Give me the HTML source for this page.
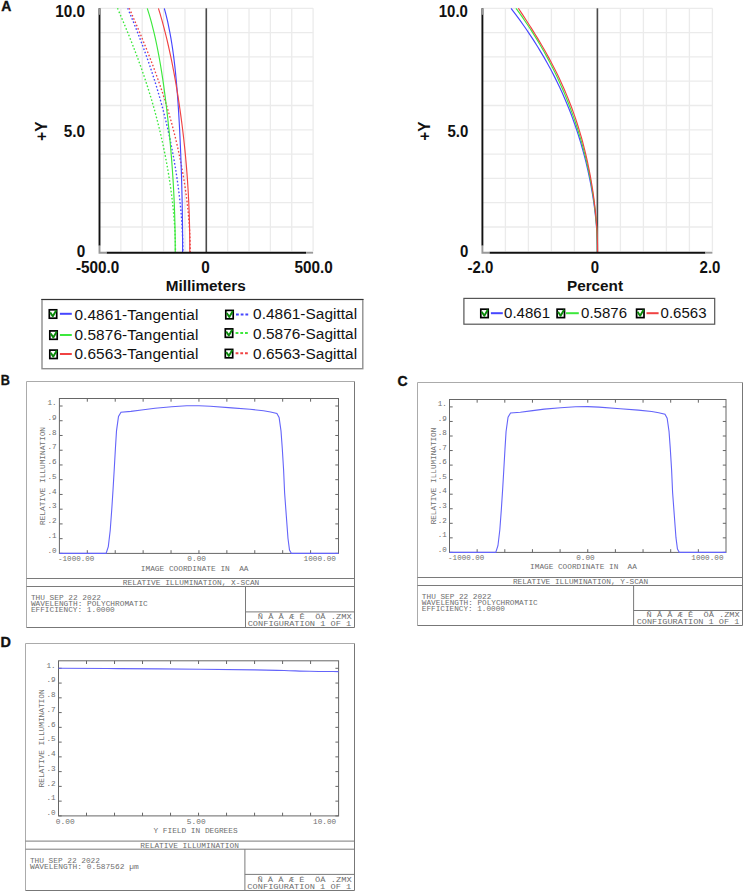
<!DOCTYPE html>
<html><head><meta charset="utf-8"><style>
html,body{margin:0;padding:0;background:#fff;}
svg{display:block;}
</style></head><body>
<svg width="744" height="892" viewBox="0 0 744 892">
<rect width="744" height="892" fill="#fff"/>
<g stroke="#ebebeb" stroke-width="1.3"><line x1="120.86" y1="8.3" x2="120.86" y2="251.3"/><line x1="142.22" y1="8.3" x2="142.22" y2="251.3"/><line x1="163.58" y1="8.3" x2="163.58" y2="251.3"/><line x1="184.94" y1="8.3" x2="184.94" y2="251.3"/><line x1="206.30" y1="8.3" x2="206.30" y2="251.3"/><line x1="227.66" y1="8.3" x2="227.66" y2="251.3"/><line x1="249.02" y1="8.3" x2="249.02" y2="251.3"/><line x1="270.38" y1="8.3" x2="270.38" y2="251.3"/><line x1="291.74" y1="8.3" x2="291.74" y2="251.3"/><line x1="313.10" y1="8.3" x2="313.10" y2="251.3"/><line x1="99.5" y1="8.30" x2="313.1" y2="8.30"/><line x1="99.5" y1="32.60" x2="313.1" y2="32.60"/><line x1="99.5" y1="56.90" x2="313.1" y2="56.90"/><line x1="99.5" y1="81.20" x2="313.1" y2="81.20"/><line x1="99.5" y1="105.50" x2="313.1" y2="105.50"/><line x1="99.5" y1="129.80" x2="313.1" y2="129.80"/><line x1="99.5" y1="154.10" x2="313.1" y2="154.10"/><line x1="99.5" y1="178.40" x2="313.1" y2="178.40"/><line x1="99.5" y1="202.70" x2="313.1" y2="202.70"/><line x1="99.5" y1="227.00" x2="313.1" y2="227.00"/></g>
<g stroke="#ebebeb" stroke-width="1.3"><line x1="505.40" y1="8.3" x2="505.40" y2="251.3"/><line x1="528.40" y1="8.3" x2="528.40" y2="251.3"/><line x1="551.40" y1="8.3" x2="551.40" y2="251.3"/><line x1="574.40" y1="8.3" x2="574.40" y2="251.3"/><line x1="597.40" y1="8.3" x2="597.40" y2="251.3"/><line x1="620.40" y1="8.3" x2="620.40" y2="251.3"/><line x1="643.40" y1="8.3" x2="643.40" y2="251.3"/><line x1="666.40" y1="8.3" x2="666.40" y2="251.3"/><line x1="689.40" y1="8.3" x2="689.40" y2="251.3"/><line x1="712.40" y1="8.3" x2="712.40" y2="251.3"/><line x1="482.4" y1="8.30" x2="712.4" y2="8.30"/><line x1="482.4" y1="32.60" x2="712.4" y2="32.60"/><line x1="482.4" y1="56.90" x2="712.4" y2="56.90"/><line x1="482.4" y1="81.20" x2="712.4" y2="81.20"/><line x1="482.4" y1="105.50" x2="712.4" y2="105.50"/><line x1="482.4" y1="129.80" x2="712.4" y2="129.80"/><line x1="482.4" y1="154.10" x2="712.4" y2="154.10"/><line x1="482.4" y1="178.40" x2="712.4" y2="178.40"/><line x1="482.4" y1="202.70" x2="712.4" y2="202.70"/><line x1="482.4" y1="227.00" x2="712.4" y2="227.00"/></g>
<line x1="206.3" y1="8.3" x2="206.3" y2="252.7" stroke="#4a4a4a" stroke-width="1.6"/>
<line x1="597.4" y1="8.3" x2="597.4" y2="252.7" stroke="#4a4a4a" stroke-width="1.6"/>
<path d="M117.51,8.30 C117.95,9.31 119.26,12.35 120.12,14.38 C120.98,16.40 121.84,18.43 122.70,20.45 C123.55,22.48 124.40,24.50 125.24,26.53 C126.08,28.55 126.91,30.58 127.74,32.60 C128.56,34.62 129.38,36.65 130.19,38.67 C131.00,40.70 131.80,42.73 132.59,44.75 C133.38,46.77 134.16,48.80 134.94,50.83 C135.71,52.85 136.47,54.88 137.22,56.90 C137.98,58.93 138.72,60.95 139.45,62.98 C140.18,65.00 140.90,67.03 141.62,69.05 C142.33,71.07 143.03,73.10 143.72,75.12 C144.40,77.15 145.08,79.17 145.75,81.20 C146.42,83.23 147.07,85.25 147.72,87.28 C148.36,89.30 148.99,91.32 149.62,93.35 C150.24,95.38 150.85,97.40 151.45,99.42 C152.05,101.45 152.64,103.47 153.21,105.50 C153.79,107.53 154.36,109.55 154.91,111.58 C155.47,113.60 156.01,115.62 156.54,117.65 C157.07,119.68 157.59,121.70 158.10,123.72 C158.61,125.75 159.11,127.78 159.60,129.80 C160.09,131.83 160.57,133.85 161.03,135.88 C161.50,137.90 161.95,139.93 162.40,141.95 C162.84,143.98 163.28,146.00 163.70,148.03 C164.12,150.05 164.54,152.08 164.94,154.10 C165.34,156.13 165.73,158.15 166.11,160.18 C166.49,162.20 166.86,164.23 167.22,166.25 C167.58,168.28 167.93,170.30 168.27,172.33 C168.61,174.35 168.93,176.38 169.25,178.40 C169.57,180.43 169.87,182.45 170.17,184.48 C170.46,186.50 170.75,188.53 171.02,190.55 C171.30,192.58 171.56,194.60 171.81,196.63 C172.06,198.65 172.30,200.68 172.53,202.70 C172.76,204.73 172.97,206.75 173.18,208.78 C173.38,210.80 173.57,212.83 173.75,214.85 C173.93,216.88 174.10,218.90 174.25,220.93 C174.41,222.95 174.55,224.98 174.67,227.00 C174.80,229.03 174.91,231.05 175.01,233.08 C175.11,235.10 175.19,237.12 175.26,239.15 C175.32,241.18 175.38,243.20 175.41,245.23 C175.45,247.25 175.46,250.15 175.46,251.30 C175.47,252.45 175.46,251.97 175.46,252.10" fill="none" stroke="#3ce83c" stroke-width="1.35" stroke-dasharray="1.6 2.0"/>
<path d="M127.75,8.30 C128.17,9.31 129.44,12.35 130.28,14.38 C131.11,16.40 131.94,18.43 132.77,20.45 C133.59,22.48 134.41,24.50 135.22,26.53 C136.03,28.55 136.83,30.58 137.62,32.60 C138.42,34.62 139.20,36.65 139.98,38.67 C140.75,40.70 141.52,42.73 142.28,44.75 C143.04,46.77 143.79,48.80 144.52,50.83 C145.26,52.85 145.99,54.88 146.71,56.90 C147.43,58.93 148.14,60.95 148.84,62.98 C149.53,65.00 150.22,67.03 150.90,69.05 C151.57,71.07 152.24,73.10 152.90,75.12 C153.55,77.15 154.20,79.17 154.83,81.20 C155.46,83.23 156.09,85.25 156.70,87.28 C157.31,89.30 157.91,91.32 158.50,93.35 C159.09,95.38 159.67,97.40 160.23,99.42 C160.80,101.45 161.36,103.47 161.90,105.50 C162.45,107.53 162.98,109.55 163.51,111.58 C164.03,113.60 164.55,115.62 165.05,117.65 C165.55,119.68 166.04,121.70 166.52,123.72 C167.01,125.75 167.48,127.78 167.94,129.80 C168.40,131.83 168.85,133.85 169.29,135.88 C169.73,137.90 170.15,139.93 170.57,141.95 C170.99,143.98 171.40,146.00 171.80,148.03 C172.20,150.05 172.59,152.08 172.96,154.10 C173.34,156.13 173.71,158.15 174.07,160.18 C174.43,162.20 174.77,164.23 175.11,166.25 C175.45,168.28 175.78,170.30 176.10,172.33 C176.42,174.35 176.72,176.38 177.02,178.40 C177.32,180.43 177.61,182.45 177.88,184.48 C178.16,186.50 178.43,188.53 178.69,190.55 C178.94,192.58 179.19,194.60 179.42,196.63 C179.66,198.65 179.89,200.68 180.10,202.70 C180.31,204.73 180.52,206.75 180.71,208.78 C180.90,210.80 181.08,212.83 181.25,214.85 C181.42,216.88 181.58,218.90 181.72,220.93 C181.86,222.95 182.00,224.98 182.11,227.00 C182.23,229.03 182.34,231.05 182.43,233.08 C182.52,235.10 182.60,237.12 182.66,239.15 C182.73,241.18 182.77,243.20 182.81,245.23 C182.84,247.25 182.85,250.15 182.86,251.30 C182.86,252.45 182.86,251.97 182.86,252.10" fill="none" stroke="#4646ff" stroke-width="1.35" stroke-dasharray="1.6 2.0"/>
<path d="M129.28,8.30 C129.72,9.31 131.04,12.35 131.92,14.38 C132.79,16.40 133.67,18.43 134.54,20.45 C135.41,22.48 136.28,24.50 137.14,26.53 C138.00,28.55 138.86,30.58 139.71,32.60 C140.56,34.62 141.41,36.65 142.25,38.67 C143.09,40.70 143.92,42.73 144.74,44.75 C145.56,46.77 146.38,48.80 147.19,50.83 C147.99,52.85 148.79,54.88 149.58,56.90 C150.37,58.93 151.15,60.95 151.92,62.98 C152.69,65.00 153.46,67.03 154.21,69.05 C154.96,71.07 155.70,73.10 156.43,75.12 C157.16,77.15 157.88,79.17 158.58,81.20 C159.29,83.23 159.99,85.25 160.68,87.28 C161.36,89.30 162.04,91.32 162.70,93.35 C163.36,95.38 164.02,97.40 164.66,99.42 C165.30,101.45 165.93,103.47 166.54,105.50 C167.16,107.53 167.77,109.55 168.36,111.58 C168.96,113.60 169.54,115.62 170.11,117.65 C170.68,119.68 171.24,121.70 171.79,123.72 C172.33,125.75 172.87,127.78 173.39,129.80 C173.92,131.83 174.43,133.85 174.93,135.88 C175.43,137.90 175.92,139.93 176.39,141.95 C176.87,143.98 177.33,146.00 177.79,148.03 C178.24,150.05 178.68,152.08 179.11,154.10 C179.54,156.13 179.96,158.15 180.36,160.18 C180.77,162.20 181.17,164.23 181.55,166.25 C181.93,168.28 182.30,170.30 182.66,172.33 C183.02,174.35 183.37,176.38 183.70,178.40 C184.04,180.43 184.36,182.45 184.68,184.48 C184.99,186.50 185.29,188.53 185.58,190.55 C185.86,192.58 186.14,194.60 186.40,196.63 C186.67,198.65 186.92,200.68 187.15,202.70 C187.39,204.73 187.62,206.75 187.83,208.78 C188.04,210.80 188.24,212.83 188.43,214.85 C188.61,216.88 188.79,218.90 188.94,220.93 C189.10,222.95 189.25,224.98 189.38,227.00 C189.51,229.03 189.62,231.05 189.72,233.08 C189.82,235.10 189.90,237.12 189.97,239.15 C190.04,241.18 190.09,243.20 190.13,245.23 C190.16,247.25 190.17,250.15 190.18,251.30 C190.19,252.45 190.18,251.97 190.18,252.10" fill="none" stroke="#f04242" stroke-width="1.35" stroke-dasharray="1.6 2.0"/>
<path d="M147.27,8.30 C147.59,9.31 148.55,12.35 149.15,14.38 C149.76,16.40 150.33,18.43 150.89,20.45 C151.45,22.48 151.99,24.50 152.51,26.53 C153.03,28.55 153.52,30.58 154.01,32.60 C154.49,34.62 154.95,36.65 155.40,38.67 C155.85,40.70 156.29,42.73 156.71,44.75 C157.13,46.77 157.53,48.80 157.93,50.83 C158.32,52.85 158.70,54.88 159.07,56.90 C159.44,58.93 159.80,60.95 160.15,62.98 C160.50,65.00 160.84,67.03 161.17,69.05 C161.50,71.07 161.82,73.10 162.13,75.12 C162.44,77.15 162.74,79.17 163.04,81.20 C163.34,83.23 163.62,85.25 163.91,87.28 C164.19,89.30 164.46,91.32 164.73,93.35 C165.00,95.38 165.26,97.40 165.51,99.42 C165.77,101.45 166.02,103.47 166.27,105.50 C166.51,107.53 166.75,109.55 166.98,111.58 C167.22,113.60 167.44,115.62 167.67,117.65 C167.89,119.68 168.11,121.70 168.32,123.72 C168.54,125.75 168.75,127.78 168.95,129.80 C169.16,131.83 169.36,133.85 169.55,135.88 C169.75,137.90 169.94,139.93 170.12,141.95 C170.31,143.98 170.49,146.00 170.66,148.03 C170.84,150.05 171.01,152.08 171.18,154.10 C171.35,156.13 171.51,158.15 171.67,160.18 C171.82,162.20 171.98,164.23 172.12,166.25 C172.27,168.28 172.41,170.30 172.55,172.33 C172.69,174.35 172.82,176.38 172.95,178.40 C173.08,180.43 173.20,182.45 173.32,184.48 C173.44,186.50 173.55,188.53 173.65,190.55 C173.76,192.58 173.86,194.60 173.96,196.63 C174.05,198.65 174.14,200.68 174.23,202.70 C174.31,204.73 174.39,206.75 174.47,208.78 C174.54,210.80 174.61,212.83 174.67,214.85 C174.73,216.88 174.79,218.90 174.84,220.93 C174.89,222.95 174.94,224.98 174.98,227.00 C175.02,229.03 175.06,231.05 175.09,233.08 C175.12,235.10 175.14,237.12 175.16,239.15 C175.18,241.18 175.19,243.20 175.20,245.23 C175.21,247.25 175.21,250.15 175.22,251.30 C175.22,252.45 175.22,251.97 175.22,252.10" fill="none" stroke="#3ce83c" stroke-width="1.15"/>
<path d="M164.30,8.30 C164.56,9.31 165.39,12.35 165.91,14.38 C166.42,16.40 166.90,18.43 167.37,20.45 C167.83,22.48 168.27,24.50 168.69,26.53 C169.11,28.55 169.51,30.58 169.89,32.60 C170.28,34.62 170.64,36.65 170.99,38.67 C171.33,40.70 171.66,42.73 171.98,44.75 C172.29,46.77 172.59,48.80 172.88,50.83 C173.16,52.85 173.44,54.88 173.70,56.90 C173.96,58.93 174.21,60.95 174.44,62.98 C174.68,65.00 174.91,67.03 175.13,69.05 C175.35,71.07 175.55,73.10 175.75,75.12 C175.95,77.15 176.14,79.17 176.33,81.20 C176.51,83.23 176.68,85.25 176.85,87.28 C177.02,89.30 177.18,91.32 177.34,93.35 C177.50,95.38 177.65,97.40 177.79,99.42 C177.94,101.45 178.08,103.47 178.21,105.50 C178.35,107.53 178.47,109.55 178.60,111.58 C178.73,113.60 178.85,115.62 178.96,117.65 C179.08,119.68 179.20,121.70 179.31,123.72 C179.42,125.75 179.52,127.78 179.63,129.80 C179.73,131.83 179.83,133.85 179.93,135.88 C180.02,137.90 180.12,139.93 180.21,141.95 C180.30,143.98 180.39,146.00 180.47,148.03 C180.56,150.05 180.64,152.08 180.72,154.10 C180.80,156.13 180.88,158.15 180.95,160.18 C181.03,162.20 181.10,164.23 181.17,166.25 C181.24,168.28 181.31,170.30 181.37,172.33 C181.44,174.35 181.50,176.38 181.56,178.40 C181.62,180.43 181.68,182.45 181.73,184.48 C181.79,186.50 181.84,188.53 181.89,190.55 C181.94,192.58 181.99,194.60 182.03,196.63 C182.08,198.65 182.12,200.68 182.16,202.70 C182.20,204.73 182.24,206.75 182.27,208.78 C182.30,210.80 182.34,212.83 182.36,214.85 C182.39,216.88 182.42,218.90 182.44,220.93 C182.47,222.95 182.49,224.98 182.51,227.00 C182.53,229.03 182.54,231.05 182.55,233.08 C182.57,235.10 182.58,237.12 182.59,239.15 C182.60,241.18 182.60,243.20 182.61,245.23 C182.61,247.25 182.61,250.15 182.61,251.30 C182.61,252.45 182.61,251.97 182.61,252.10" fill="none" stroke="#4646ff" stroke-width="1.15"/>
<path d="M158.42,8.30 C158.73,9.31 159.66,12.35 160.26,14.38 C160.85,16.40 161.43,18.43 162.00,20.45 C162.56,22.48 163.11,24.50 163.65,26.53 C164.19,28.55 164.71,30.58 165.22,32.60 C165.74,34.62 166.24,36.65 166.72,38.67 C167.21,40.70 167.69,42.73 168.15,44.75 C168.62,46.77 169.07,48.80 169.51,50.83 C169.96,52.85 170.39,54.88 170.81,56.90 C171.24,58.93 171.65,60.95 172.06,62.98 C172.46,65.00 172.86,67.03 173.25,69.05 C173.64,71.07 174.02,73.10 174.39,75.12 C174.76,77.15 175.12,79.17 175.48,81.20 C175.83,83.23 176.18,85.25 176.52,87.28 C176.86,89.30 177.19,91.32 177.52,93.35 C177.85,95.38 178.17,97.40 178.48,99.42 C178.79,101.45 179.09,103.47 179.39,105.50 C179.69,107.53 179.98,109.55 180.27,111.58 C180.55,113.60 180.83,115.62 181.10,117.65 C181.37,119.68 181.64,121.70 181.90,123.72 C182.16,125.75 182.41,127.78 182.66,129.80 C182.90,131.83 183.14,133.85 183.38,135.88 C183.61,137.90 183.84,139.93 184.06,141.95 C184.28,143.98 184.49,146.00 184.70,148.03 C184.91,150.05 185.11,152.08 185.31,154.10 C185.50,156.13 185.69,158.15 185.87,160.18 C186.05,162.20 186.23,164.23 186.40,166.25 C186.57,168.28 186.73,170.30 186.89,172.33 C187.05,174.35 187.20,176.38 187.34,178.40 C187.48,180.43 187.62,182.45 187.75,184.48 C187.88,186.50 188.01,188.53 188.13,190.55 C188.24,192.58 188.36,194.60 188.46,196.63 C188.57,198.65 188.66,200.68 188.76,202.70 C188.85,204.73 188.93,206.75 189.01,208.78 C189.09,210.80 189.17,212.83 189.23,214.85 C189.30,216.88 189.36,218.90 189.42,220.93 C189.47,222.95 189.52,224.98 189.56,227.00 C189.60,229.03 189.64,231.05 189.67,233.08 C189.70,235.10 189.73,237.12 189.75,239.15 C189.77,241.18 189.78,243.20 189.79,245.23 C189.80,247.25 189.81,250.15 189.81,251.30 C189.81,252.45 189.81,251.97 189.81,252.10" fill="none" stroke="#f04242" stroke-width="1.15"/>
<path d="M511.04,8.30 C511.81,9.31 514.12,12.35 515.62,14.38 C517.13,16.40 518.61,18.43 520.06,20.45 C521.52,22.48 522.95,24.50 524.37,26.53 C525.78,28.55 527.16,30.58 528.52,32.60 C529.89,34.62 531.23,36.65 532.54,38.67 C533.86,40.70 535.15,42.73 536.42,44.75 C537.69,46.77 538.93,48.80 540.15,50.83 C541.37,52.85 542.57,54.88 543.75,56.90 C544.92,58.93 546.07,60.95 547.20,62.98 C548.33,65.00 549.44,67.03 550.52,69.05 C551.60,71.07 552.66,73.10 553.70,75.12 C554.74,77.15 555.75,79.17 556.75,81.20 C557.74,83.23 558.71,85.25 559.66,87.28 C560.61,89.30 561.54,91.32 562.45,93.35 C563.36,95.38 564.24,97.40 565.11,99.42 C565.98,101.45 566.82,103.47 567.65,105.50 C568.48,107.53 569.28,109.55 570.07,111.58 C570.86,113.60 571.62,115.62 572.37,117.65 C573.12,119.68 573.85,121.70 574.56,123.72 C575.27,125.75 575.96,127.78 576.64,129.80 C577.31,131.83 577.97,133.85 578.61,135.88 C579.25,137.90 579.87,139.93 580.48,141.95 C581.08,143.98 581.67,146.00 582.24,148.03 C582.81,150.05 583.36,152.08 583.90,154.10 C584.44,156.13 584.96,158.15 585.47,160.18 C585.97,162.20 586.46,164.23 586.94,166.25 C587.41,168.28 587.87,170.30 588.31,172.33 C588.76,174.35 589.18,176.38 589.60,178.40 C590.01,180.43 590.41,182.45 590.79,184.48 C591.17,186.50 591.53,188.53 591.88,190.55 C592.24,192.58 592.57,194.60 592.89,196.63 C593.21,198.65 593.52,200.68 593.80,202.70 C594.09,204.73 594.37,206.75 594.62,208.78 C594.88,210.80 595.12,212.83 595.34,214.85 C595.57,216.88 595.78,218.90 595.97,220.93 C596.16,222.95 596.33,224.98 596.49,227.00 C596.65,229.03 596.78,231.05 596.90,233.08 C597.02,235.10 597.13,237.12 597.21,239.15 C597.29,241.18 597.35,243.20 597.40,245.23 C597.44,247.25 597.45,250.15 597.46,251.30 C597.47,252.45 597.46,251.97 597.46,252.10" fill="none" stroke="#4646ff" stroke-width="1.15"/>
<path d="M516.02,8.30 C516.75,9.31 518.97,12.35 520.41,14.38 C521.84,16.40 523.25,18.43 524.63,20.45 C526.02,22.48 527.37,24.50 528.71,26.53 C530.04,28.55 531.34,30.58 532.63,32.60 C533.91,34.62 535.17,36.65 536.40,38.67 C537.64,40.70 538.85,42.73 540.04,44.75 C541.22,46.77 542.39,48.80 543.53,50.83 C544.67,52.85 545.79,54.88 546.89,56.90 C547.99,58.93 549.06,60.95 550.12,62.98 C551.17,65.00 552.21,67.03 553.22,69.05 C554.23,71.07 555.22,73.10 556.20,75.12 C557.17,77.15 558.12,79.17 559.05,81.20 C559.98,83.23 560.89,85.25 561.79,87.28 C562.68,89.30 563.55,91.32 564.41,93.35 C565.26,95.38 566.10,97.40 566.91,99.42 C567.73,101.45 568.53,103.47 569.31,105.50 C570.09,107.53 570.86,109.55 571.60,111.58 C572.35,113.60 573.07,115.62 573.79,117.65 C574.50,119.68 575.19,121.70 575.87,123.72 C576.54,125.75 577.20,127.78 577.85,129.80 C578.49,131.83 579.12,133.85 579.73,135.88 C580.34,137.90 580.93,139.93 581.51,141.95 C582.09,143.98 582.65,146.00 583.19,148.03 C583.74,150.05 584.27,152.08 584.78,154.10 C585.30,156.13 585.80,158.15 586.28,160.18 C586.76,162.20 587.23,164.23 587.68,166.25 C588.13,168.28 588.57,170.30 588.99,172.33 C589.41,174.35 589.82,176.38 590.21,178.40 C590.60,180.43 590.97,182.45 591.33,184.48 C591.69,186.50 592.04,188.53 592.37,190.55 C592.69,192.58 593.01,194.60 593.30,196.63 C593.60,198.65 593.88,200.68 594.15,202.70 C594.42,204.73 594.67,206.75 594.90,208.78 C595.14,210.80 595.36,212.83 595.56,214.85 C595.76,216.88 595.95,218.90 596.12,220.93 C596.29,222.95 596.45,224.98 596.59,227.00 C596.72,229.03 596.85,231.05 596.95,233.08 C597.06,235.10 597.14,237.12 597.21,239.15 C597.28,241.18 597.34,243.20 597.37,245.23 C597.41,247.25 597.42,250.15 597.43,251.30 C597.44,252.45 597.43,251.97 597.43,252.10" fill="none" stroke="#3ce83c" stroke-width="1.15"/>
<path d="M518.36,8.30 C519.03,9.31 521.07,12.35 522.41,14.38 C523.75,16.40 525.08,18.43 526.39,20.45 C527.71,22.48 529.01,24.50 530.30,26.53 C531.58,28.55 532.85,30.58 534.11,32.60 C535.36,34.62 536.60,36.65 537.82,38.67 C539.04,40.70 540.25,42.73 541.43,44.75 C542.62,46.77 543.78,48.80 544.93,50.83 C546.08,52.85 547.20,54.88 548.31,56.90 C549.42,58.93 550.50,60.95 551.57,62.98 C552.63,65.00 553.68,67.03 554.70,69.05 C555.73,71.07 556.73,73.10 557.71,75.12 C558.69,77.15 559.65,79.17 560.59,81.20 C561.53,83.23 562.45,85.25 563.34,87.28 C564.24,89.30 565.12,91.32 565.97,93.35 C566.83,95.38 567.66,97.40 568.47,99.42 C569.29,101.45 570.08,103.47 570.85,105.50 C571.62,107.53 572.37,109.55 573.10,111.58 C573.84,113.60 574.55,115.62 575.24,117.65 C575.93,119.68 576.60,121.70 577.26,123.72 C577.91,125.75 578.55,127.78 579.16,129.80 C579.78,131.83 580.38,133.85 580.96,135.88 C581.54,137.90 582.10,139.93 582.65,141.95 C583.20,143.98 583.72,146.00 584.24,148.03 C584.75,150.05 585.24,152.08 585.72,154.10 C586.20,156.13 586.67,158.15 587.11,160.18 C587.56,162.20 588.00,164.23 588.41,166.25 C588.83,168.28 589.23,170.30 589.62,172.33 C590.01,174.35 590.38,176.38 590.74,178.40 C591.10,180.43 591.45,182.45 591.78,184.48 C592.11,186.50 592.43,188.53 592.74,190.55 C593.04,192.58 593.33,194.60 593.61,196.63 C593.88,198.65 594.15,200.68 594.40,202.70 C594.65,204.73 594.89,206.75 595.11,208.78 C595.33,210.80 595.54,212.83 595.73,214.85 C595.93,216.88 596.11,218.90 596.28,220.93 C596.44,222.95 596.60,224.98 596.73,227.00 C596.87,229.03 596.99,231.05 597.10,233.08 C597.20,235.10 597.29,237.12 597.36,239.15 C597.44,241.18 597.49,243.20 597.53,245.23 C597.57,247.25 597.58,250.15 597.59,251.30 C597.60,252.45 597.59,251.97 597.59,252.10" fill="none" stroke="#f04242" stroke-width="1.15"/>
<line x1="99.5" y1="8.3" x2="99.5" y2="245.7" stroke="#111" stroke-width="1.9"/>
<line x1="106.5" y1="252.7" x2="306.1" y2="252.7" stroke="#111" stroke-width="1.9"/>
<line x1="99.5" y1="8.3" x2="99.5" y2="14.8" stroke="#999" stroke-width="1.9"/>
<path d="M99.5,245.7V252.7H106.5" fill="none" stroke="#999" stroke-width="1.9"/>
<line x1="306.1" y1="252.7" x2="313.1" y2="252.7" stroke="#999" stroke-width="1.9"/>
<line x1="482.4" y1="8.3" x2="482.4" y2="245.7" stroke="#111" stroke-width="1.9"/>
<line x1="489.4" y1="252.7" x2="705.4" y2="252.7" stroke="#111" stroke-width="1.9"/>
<line x1="482.4" y1="8.3" x2="482.4" y2="14.8" stroke="#999" stroke-width="1.9"/>
<path d="M482.4,245.7V252.7H489.4" fill="none" stroke="#999" stroke-width="1.9"/>
<line x1="705.4" y1="252.7" x2="712.4" y2="252.7" stroke="#999" stroke-width="1.9"/>
<text font-family="Liberation Sans" font-weight="bold" fill="#111" font-size="15.3" transform="translate(84.9,17.3) scale(1,1.05)" text-anchor="end">10.0</text>
<text font-family="Liberation Sans" font-weight="bold" fill="#111" font-size="15.3" transform="translate(84.9,137.2) scale(1,1.05)" text-anchor="end">5.0</text>
<text font-family="Liberation Sans" font-weight="bold" fill="#111" font-size="15.3" transform="translate(85.3,256.5) scale(1,1.05)" text-anchor="end">0</text>
<text font-family="Liberation Sans" font-weight="bold" fill="#111" font-size="15.3" transform="translate(97.6,272.6) scale(1,1.04)" text-anchor="middle">-500.0</text>
<text font-family="Liberation Sans" font-weight="bold" fill="#111" font-size="15.3" transform="translate(205.6,272.6) scale(1,1.04)" text-anchor="middle">0</text>
<text font-family="Liberation Sans" font-weight="bold" fill="#111" font-size="15.3" transform="translate(313.7,272.6) scale(1,1.04)" text-anchor="middle">500.0</text>
<text font-family="Liberation Sans" font-weight="bold" fill="#111" font-size="15.3" transform="translate(205.7,291.0) scale(1,0.99)" text-anchor="middle">Millimeters</text>
<text font-family="Liberation Sans" font-weight="bold" fill="#111" font-size="15.5" transform="translate(47.0,131.2) rotate(-90) scale(1,1.03)" text-anchor="middle">+Y</text>
<text font-family="Liberation Sans" font-weight="bold" fill="#111" font-size="15" transform="translate(467.9,16.7) scale(1,1.06)" text-anchor="end">10.0</text>
<text font-family="Liberation Sans" font-weight="bold" fill="#111" font-size="15" transform="translate(468.3,137.2) scale(1,1.06)" text-anchor="end">5.0</text>
<text font-family="Liberation Sans" font-weight="bold" fill="#111" font-size="15" transform="translate(468.3,256.7) scale(1,1.06)" text-anchor="end">0</text>
<text font-family="Liberation Sans" font-weight="bold" fill="#111" font-size="15" transform="translate(480.3,272.6) scale(1,1.06)" text-anchor="middle">-2.0</text>
<text font-family="Liberation Sans" font-weight="bold" fill="#111" font-size="15" transform="translate(595.0,272.6) scale(1,1.06)" text-anchor="middle">0</text>
<text font-family="Liberation Sans" font-weight="bold" fill="#111" font-size="15" transform="translate(710.0,272.6) scale(1,1.06)" text-anchor="middle">2.0</text>
<text font-family="Liberation Sans" font-weight="bold" fill="#111" font-size="15.3" transform="translate(595.0,291.0) scale(1,1.0)" text-anchor="middle">Percent</text>
<text font-family="Liberation Sans" font-weight="bold" fill="#111" font-size="15.3" transform="translate(430.2,131.2) rotate(-90) scale(1,1.03)" text-anchor="middle">+Y</text>
<text font-family="Liberation Sans" font-weight="bold" fill="#111" font-size="14" stroke="#111" stroke-width="0.35" transform="translate(1.2,10.9) scale(1.0,1)">A</text>
<text font-family="Liberation Sans" font-weight="bold" fill="#111" font-size="14" stroke="#111" stroke-width="0.35" transform="translate(0.7,385.3) scale(0.9,1)">B</text>
<text font-family="Liberation Sans" font-weight="bold" fill="#111" font-size="14" stroke="#111" stroke-width="0.35" transform="translate(397.5,385.9) scale(1.0,1)">C</text>
<text font-family="Liberation Sans" font-weight="bold" fill="#111" font-size="14" stroke="#111" stroke-width="0.35" transform="translate(0.6,646.9) scale(1.03,1)">D</text>
<rect x="42" y="299.5" width="320.8" height="69.2" fill="none" stroke="#8e8e8e" stroke-width="1.4"/>
<line x1="41.3" y1="299.5" x2="363.5" y2="299.5" stroke="#333" stroke-width="1.1"/>
<rect x="463.9" y="298.4" width="250.8" height="25.8" fill="none" stroke="#555" stroke-width="1.2"/>
<rect x="49.3" y="309.8" width="7.4" height="8.4" fill="#fff" stroke="#000" stroke-width="1.7"/><path d="M50.2,312.4 L52.8,316.3 L56.3,310.3" fill="none" stroke="#0a8a0a" stroke-width="1.9" stroke-linejoin="round"/>
<line x1="59.9" y1="313.8" x2="71.8" y2="313.8" stroke="#4646ff" stroke-width="2"/>
<text font-family="Liberation Sans" font-size="15.4" fill="#111" x="74.4" y="319.8" textLength="124" lengthAdjust="spacing">0.4861-Tangential</text>
<rect x="225.8" y="310.40000000000003" width="7.4" height="8.4" fill="#fff" stroke="#000" stroke-width="1.7"/><path d="M226.7,313.0 L229.3,316.90000000000003 L232.8,310.90000000000003" fill="none" stroke="#0a8a0a" stroke-width="1.9" stroke-linejoin="round"/>
<line x1="236.0" y1="314.5" x2="248.6" y2="314.5" stroke="#4646ff" stroke-width="2" stroke-dasharray="2.8 1.9"/>
<text font-family="Liberation Sans" font-size="15.4" fill="#111" x="253.1" y="318.7" textLength="104" lengthAdjust="spacing">0.4861-Sagittal</text>
<rect x="49.8" y="330.90000000000003" width="7.4" height="8.4" fill="#fff" stroke="#000" stroke-width="1.7"/><path d="M50.7,333.5 L53.3,337.40000000000003 L56.8,331.40000000000003" fill="none" stroke="#0a8a0a" stroke-width="1.9" stroke-linejoin="round"/>
<line x1="59.9" y1="335.0" x2="71.8" y2="335.0" stroke="#3ce83c" stroke-width="2"/>
<text font-family="Liberation Sans" font-size="15.4" fill="#111" x="74.4" y="339.9" textLength="124" lengthAdjust="spacing">0.5876-Tangential</text>
<rect x="225.3" y="328.90000000000003" width="7.4" height="8.4" fill="#fff" stroke="#000" stroke-width="1.7"/><path d="M226.2,331.5 L228.8,335.40000000000003 L232.3,329.40000000000003" fill="none" stroke="#0a8a0a" stroke-width="1.9" stroke-linejoin="round"/>
<line x1="235.6" y1="332.9" x2="248.2" y2="332.9" stroke="#3ce83c" stroke-width="2" stroke-dasharray="2.8 1.9"/>
<text font-family="Liberation Sans" font-size="15.4" fill="#111" x="253.1" y="338.5" textLength="104" lengthAdjust="spacing">0.5876-Sagittal</text>
<rect x="49.8" y="350.1" width="7.4" height="8.4" fill="#fff" stroke="#000" stroke-width="1.7"/><path d="M50.7,352.7 L53.3,356.6 L56.8,350.6" fill="none" stroke="#0a8a0a" stroke-width="1.9" stroke-linejoin="round"/>
<line x1="59.9" y1="354.0" x2="71.8" y2="354.0" stroke="#f04242" stroke-width="2"/>
<text font-family="Liberation Sans" font-size="15.4" fill="#111" x="74.4" y="359.3" textLength="124" lengthAdjust="spacing">0.6563-Tangential</text>
<rect x="225.3" y="349.40000000000003" width="7.4" height="8.4" fill="#fff" stroke="#000" stroke-width="1.7"/><path d="M226.2,352.0 L228.8,355.90000000000003 L232.3,349.90000000000003" fill="none" stroke="#0a8a0a" stroke-width="1.9" stroke-linejoin="round"/>
<line x1="235.6" y1="353.3" x2="248.2" y2="353.3" stroke="#f04242" stroke-width="2" stroke-dasharray="2.8 1.9"/>
<text font-family="Liberation Sans" font-size="15.4" fill="#111" x="253.1" y="358.7" textLength="104" lengthAdjust="spacing">0.6563-Sagittal</text>
<rect x="480.8" y="309.2" width="7.4" height="8.4" fill="#fff" stroke="#000" stroke-width="1.7"/><path d="M481.7,311.79999999999995 L484.3,315.7 L487.8,309.7" fill="none" stroke="#0a8a0a" stroke-width="1.9" stroke-linejoin="round"/>
<line x1="490.9" y1="313.2" x2="502.8" y2="313.2" stroke="#4646ff" stroke-width="2"/>
<text font-family="Liberation Sans" font-size="15" fill="#111" x="504.1" y="318.4">0.4861</text>
<rect x="557.0999999999999" y="309.2" width="7.4" height="8.4" fill="#fff" stroke="#000" stroke-width="1.7"/><path d="M558.0,311.79999999999995 L560.5999999999999,315.7 L564.0999999999999,309.7" fill="none" stroke="#0a8a0a" stroke-width="1.9" stroke-linejoin="round"/>
<line x1="566" y1="313.2" x2="578.8" y2="313.2" stroke="#3ce83c" stroke-width="2"/>
<text font-family="Liberation Sans" font-size="15" fill="#111" x="581.1" y="318.4">0.5876</text>
<rect x="636.5999999999999" y="309.2" width="7.4" height="8.4" fill="#fff" stroke="#000" stroke-width="1.7"/><path d="M637.5,311.79999999999995 L640.0999999999999,315.7 L643.5999999999999,309.7" fill="none" stroke="#0a8a0a" stroke-width="1.9" stroke-linejoin="round"/>
<line x1="646.5" y1="313.2" x2="658.6" y2="313.2" stroke="#f04242" stroke-width="2"/>
<text font-family="Liberation Sans" font-size="15" fill="#111" x="660.6" y="318.4">0.6563</text>
<path d="M26.5,627.5V381.5H354.5" fill="none" stroke="#ababab" stroke-width="1"/>
<path d="M354.5,381.5V627.5H26.5" fill="none" stroke="#777" stroke-width="1"/>
<path d="M26.5,578.5H354.5M26.5,586.5H354.5M245.5,586.5V627.5M245.5,611.9H354.5" fill="none" stroke="#7a7a7a" stroke-width="1"/>
<rect x="59.4" y="398.5" width="279.1" height="154.89999999999998" fill="none" stroke="#666" stroke-width="1"/>
<path d="M87.31,398.5v3.2M87.31,553.4v-3.2M115.22,398.5v3.2M115.22,553.4v-3.2M143.13,398.5v3.2M143.13,553.4v-3.2M171.04,398.5v3.2M171.04,553.4v-3.2M198.95,398.5v3.2M198.95,553.4v-3.2M226.86,398.5v3.2M226.86,553.4v-3.2M254.77,398.5v3.2M254.77,553.4v-3.2M282.68,398.5v3.2M282.68,553.4v-3.2M310.59,398.5v3.2M310.59,553.4v-3.2M59.4,553.40h3.2M338.5,553.40h-3.2M59.4,538.66h3.2M338.5,538.66h-3.2M59.4,523.92h3.2M338.5,523.92h-3.2M59.4,509.18h3.2M338.5,509.18h-3.2M59.4,494.44h3.2M338.5,494.44h-3.2M59.4,479.70h3.2M338.5,479.70h-3.2M59.4,464.96h3.2M338.5,464.96h-3.2M59.4,450.22h3.2M338.5,450.22h-3.2M59.4,435.48h3.2M338.5,435.48h-3.2M59.4,420.74h3.2M338.5,420.74h-3.2M59.4,406.00h3.2M338.5,406.00h-3.2" stroke="#666" stroke-width="1" fill="none"/>
<path d="M59.40,553.40 L106.10,553.40 L108.30,546.60 L110.20,530.50 L111.70,510.30 L113.00,490.20 L114.20,470.00 L115.40,448.80 L116.50,430.90 L118.50,416.50 L121.00,412.20 L130.90,411.40 L141.50,410.00 L155.00,408.30 L171.60,406.80 L186.70,405.80 L199.00,405.70 L210.30,406.20 L231.80,407.90 L250.00,409.30 L263.50,410.70 L270.60,412.00 L276.90,413.40 L279.10,417.40 L281.00,430.90 L282.30,448.80 L283.60,470.00 L284.60,492.80 L286.30,515.70 L288.00,538.50 L289.50,550.00 L291.40,553.40 L338.50,553.40" fill="none" stroke="#6464fa" stroke-width="1.1"/>
<g font-family="Liberation Mono" fill="#6e6e6e" font-size="7.60">
<text x="56.60" y="552.60" text-anchor="end">.0</text>
<text x="56.60" y="537.86" text-anchor="end">.1</text>
<text x="56.60" y="523.12" text-anchor="end">.2</text>
<text x="56.60" y="508.38" text-anchor="end">.3</text>
<text x="56.60" y="493.64" text-anchor="end">.4</text>
<text x="56.60" y="478.90" text-anchor="end">.5</text>
<text x="56.60" y="464.16" text-anchor="end">.6</text>
<text x="56.60" y="449.42" text-anchor="end">.7</text>
<text x="56.60" y="434.68" text-anchor="end">.8</text>
<text x="56.60" y="419.94" text-anchor="end">.9</text>
<text x="56.60" y="405.20" text-anchor="end">1.</text>
<text transform="translate(45.30,525.00) rotate(-90)" textLength="98.0" lengthAdjust="spacingAndGlyphs">RELATIVE ILLUMINATION</text>
<text x="58.00" y="561.00" textLength="36.4" lengthAdjust="spacingAndGlyphs">-1000.00</text>
<text x="187.30" y="561.00" textLength="18.7" lengthAdjust="spacingAndGlyphs">0.00</text>
<text x="303.50" y="561.00" textLength="32.5" lengthAdjust="spacingAndGlyphs">1000.00</text>
<text x="140.80" y="570.60" textLength="107.7" lengthAdjust="spacingAndGlyphs">IMAGE COORDINATE IN&#160; AA</text>
<text x="122.80" y="585.00" textLength="136.5" lengthAdjust="spacingAndGlyphs">RELATIVE ILLUMINATION, X-SCAN</text>
<text x="30.90" y="600.20" textLength="70.1" lengthAdjust="spacingAndGlyphs">THU SEP 22 2022</text>
<text x="30.90" y="606.30" textLength="116.9" lengthAdjust="spacingAndGlyphs">WAVELENGTH: POLYCHROMATIC</text>
<text x="30.90" y="612.40" textLength="83.9" lengthAdjust="spacingAndGlyphs">EFFICIENCY: 1.0000</text>
<text x="257.70" y="618.70" textLength="94.0" lengthAdjust="spacingAndGlyphs">&#209; &#194; &#194; &#198; &#202; &#160;&#214;&#194; .ZMX</text>
<text x="247.70" y="625.60" textLength="103.6" lengthAdjust="spacingAndGlyphs">CONFIGURATION 1 OF 1</text>
</g>
<path d="M417.5,625.5V382.5H742.5" fill="none" stroke="#ababab" stroke-width="1"/>
<path d="M742.5,382.5V625.5H417.5" fill="none" stroke="#777" stroke-width="1"/>
<path d="M417.5,577.5H742.5M417.5,585.5H742.5M633.6,585.5V625.5M633.6,610.5H742.5" fill="none" stroke="#7a7a7a" stroke-width="1"/>
<rect x="449.5" y="399.5" width="276.5" height="152.89999999999998" fill="none" stroke="#666" stroke-width="1"/>
<path d="M477.15,399.5v3.2M477.15,552.4v-3.2M504.80,399.5v3.2M504.80,552.4v-3.2M532.45,399.5v3.2M532.45,552.4v-3.2M560.10,399.5v3.2M560.10,552.4v-3.2M587.75,399.5v3.2M587.75,552.4v-3.2M615.40,399.5v3.2M615.40,552.4v-3.2M643.05,399.5v3.2M643.05,552.4v-3.2M670.70,399.5v3.2M670.70,552.4v-3.2M698.35,399.5v3.2M698.35,552.4v-3.2M449.5,552.40h3.2M726.0,552.40h-3.2M449.5,537.85h3.2M726.0,537.85h-3.2M449.5,523.30h3.2M726.0,523.30h-3.2M449.5,508.75h3.2M726.0,508.75h-3.2M449.5,494.20h3.2M726.0,494.20h-3.2M449.5,479.65h3.2M726.0,479.65h-3.2M449.5,465.10h3.2M726.0,465.10h-3.2M449.5,450.55h3.2M726.0,450.55h-3.2M449.5,436.00h3.2M726.0,436.00h-3.2M449.5,421.45h3.2M726.0,421.45h-3.2M449.5,406.90h3.2M726.0,406.90h-3.2" stroke="#666" stroke-width="1" fill="none"/>
<path d="M449.50,552.40 L495.76,552.40 L497.94,545.69 L499.83,529.80 L501.31,509.86 L502.60,490.02 L503.79,470.08 L504.98,449.15 L506.07,431.48 L508.05,417.27 L510.53,413.02 L520.33,412.23 L530.84,410.85 L544.21,409.17 L560.65,407.69 L575.61,406.71 L587.80,406.61 L598.99,407.10 L620.29,408.78 L638.32,410.16 L651.70,411.54 L658.73,412.83 L664.97,414.21 L667.15,418.16 L669.04,431.48 L670.32,449.15 L671.61,470.08 L672.60,492.58 L674.29,515.19 L675.97,537.69 L677.46,549.04 L679.34,552.40 L726.00,552.40" fill="none" stroke="#6464fa" stroke-width="1.1"/>
<g font-family="Liberation Mono" fill="#6e6e6e" font-size="7.52">
<text x="446.73" y="551.60" text-anchor="end">.0</text>
<text x="446.73" y="537.05" text-anchor="end">.1</text>
<text x="446.73" y="522.50" text-anchor="end">.2</text>
<text x="446.73" y="507.95" text-anchor="end">.3</text>
<text x="446.73" y="493.40" text-anchor="end">.4</text>
<text x="446.73" y="478.85" text-anchor="end">.5</text>
<text x="446.73" y="464.30" text-anchor="end">.6</text>
<text x="446.73" y="449.75" text-anchor="end">.7</text>
<text x="446.73" y="435.20" text-anchor="end">.8</text>
<text x="446.73" y="420.65" text-anchor="end">.9</text>
<text x="446.73" y="406.10" text-anchor="end">1.</text>
<text transform="translate(435.53,524.37) rotate(-90)" textLength="96.7" lengthAdjust="spacingAndGlyphs">RELATIVE ILLUMINATION</text>
<text x="448.11" y="559.90" textLength="36.1" lengthAdjust="spacingAndGlyphs">-1000.00</text>
<text x="576.21" y="559.90" textLength="18.5" lengthAdjust="spacingAndGlyphs">0.00</text>
<text x="691.33" y="559.90" textLength="32.2" lengthAdjust="spacingAndGlyphs">1000.00</text>
<text x="530.14" y="569.38" textLength="106.7" lengthAdjust="spacingAndGlyphs">IMAGE COORDINATE IN&#160; AA</text>
<text x="512.92" y="583.52" textLength="135.3" lengthAdjust="spacingAndGlyphs">RELATIVE ILLUMINATION, Y-SCAN</text>
<text x="421.86" y="598.53" textLength="69.5" lengthAdjust="spacingAndGlyphs">THU SEP 22 2022</text>
<text x="421.86" y="604.56" textLength="115.8" lengthAdjust="spacingAndGlyphs">WAVELENGTH: POLYCHROMATIC</text>
<text x="421.86" y="610.58" textLength="83.1" lengthAdjust="spacingAndGlyphs">EFFICIENCY: 1.0000</text>
<text x="646.59" y="616.81" textLength="93.1" lengthAdjust="spacingAndGlyphs">&#209; &#194; &#194; &#198; &#202; &#160;&#214;&#194; .ZMX</text>
<text x="636.68" y="623.62" textLength="102.7" lengthAdjust="spacingAndGlyphs">CONFIGURATION 1 OF 1</text>
</g>
<path d="M25.5,890.5V643.5H354.5" fill="none" stroke="#ababab" stroke-width="1"/>
<path d="M354.5,643.5V890.5H25.5" fill="none" stroke="#777" stroke-width="1"/>
<path d="M25.5,841.1H354.5M25.5,849.2H354.5M244.9,849.2V890.5M244.9,874.4H354.5" fill="none" stroke="#7a7a7a" stroke-width="1"/>
<rect x="58.5" y="660.8" width="280.1" height="155.10000000000002" fill="none" stroke="#666" stroke-width="1"/>
<path d="M86.51,660.8v3.2M86.51,815.9v-3.2M114.52,660.8v3.2M114.52,815.9v-3.2M142.53,660.8v3.2M142.53,815.9v-3.2M170.54,660.8v3.2M170.54,815.9v-3.2M198.55,660.8v3.2M198.55,815.9v-3.2M226.56,660.8v3.2M226.56,815.9v-3.2M254.57,660.8v3.2M254.57,815.9v-3.2M282.58,660.8v3.2M282.58,815.9v-3.2M310.59,660.8v3.2M310.59,815.9v-3.2M58.5,815.90h3.2M338.6,815.90h-3.2M58.5,801.14h3.2M338.6,801.14h-3.2M58.5,786.38h3.2M338.6,786.38h-3.2M58.5,771.62h3.2M338.6,771.62h-3.2M58.5,756.86h3.2M338.6,756.86h-3.2M58.5,742.10h3.2M338.6,742.10h-3.2M58.5,727.35h3.2M338.6,727.35h-3.2M58.5,712.59h3.2M338.6,712.59h-3.2M58.5,697.83h3.2M338.6,697.83h-3.2M58.5,683.07h3.2M338.6,683.07h-3.2M58.5,668.31h3.2M338.6,668.31h-3.2" stroke="#666" stroke-width="1" fill="none"/>
<path d="M58.50,668.21 C68.64,668.28 95.70,668.44 119.32,668.61 C142.93,668.78 177.59,668.99 200.21,669.21 C222.82,669.43 241.00,669.69 255.00,669.91 C269.00,670.13 275.11,670.28 284.21,670.51 C293.30,670.75 300.53,671.13 309.60,671.31 C318.66,671.50 333.77,671.56 338.60,671.61" fill="none" stroke="#6464fa" stroke-width="1.1"/>
<g font-family="Liberation Mono" fill="#6e6e6e" font-size="7.62">
<text x="55.69" y="815.10" text-anchor="end">.0</text>
<text x="55.69" y="800.34" text-anchor="end">.1</text>
<text x="55.69" y="785.58" text-anchor="end">.2</text>
<text x="55.69" y="770.82" text-anchor="end">.3</text>
<text x="55.69" y="756.06" text-anchor="end">.4</text>
<text x="55.69" y="741.30" text-anchor="end">.5</text>
<text x="55.69" y="726.55" text-anchor="end">.6</text>
<text x="55.69" y="711.79" text-anchor="end">.7</text>
<text x="55.69" y="697.03" text-anchor="end">.8</text>
<text x="55.69" y="682.27" text-anchor="end">.9</text>
<text x="55.69" y="667.51" text-anchor="end">1.</text>
<text transform="translate(44.35,787.46) rotate(-90)" textLength="98.1" lengthAdjust="spacingAndGlyphs">RELATIVE ILLUMINATION</text>
<text x="55.89" y="823.51" textLength="18.8" lengthAdjust="spacingAndGlyphs">0.00</text>
<text x="186.86" y="823.51" textLength="18.8" lengthAdjust="spacingAndGlyphs">5.00</text>
<text x="313.11" y="823.51" textLength="23.0" lengthAdjust="spacingAndGlyphs">10.00</text>
<text x="153.44" y="833.12" textLength="84.2" lengthAdjust="spacingAndGlyphs">Y FIELD IN DEGREES</text>
<text x="140.35" y="847.83" textLength="98.5" lengthAdjust="spacingAndGlyphs">RELATIVE ILLUMINATION</text>
<text x="29.91" y="863.09" textLength="70.0" lengthAdjust="spacingAndGlyphs">THU SEP 22 2022</text>
<text x="29.91" y="869.21" textLength="108.8" lengthAdjust="spacingAndGlyphs">WAVELENGTH: 0.587562 &#181;m</text>
<text x="257.40" y="881.66" textLength="94.3" lengthAdjust="spacingAndGlyphs">&#209; &#194; &#194; &#198; &#202; &#160;&#214;&#194; .ZMX</text>
<text x="247.37" y="888.59" textLength="103.9" lengthAdjust="spacingAndGlyphs">CONFIGURATION 1 OF 1</text>
</g>
</svg>
</body></html>
